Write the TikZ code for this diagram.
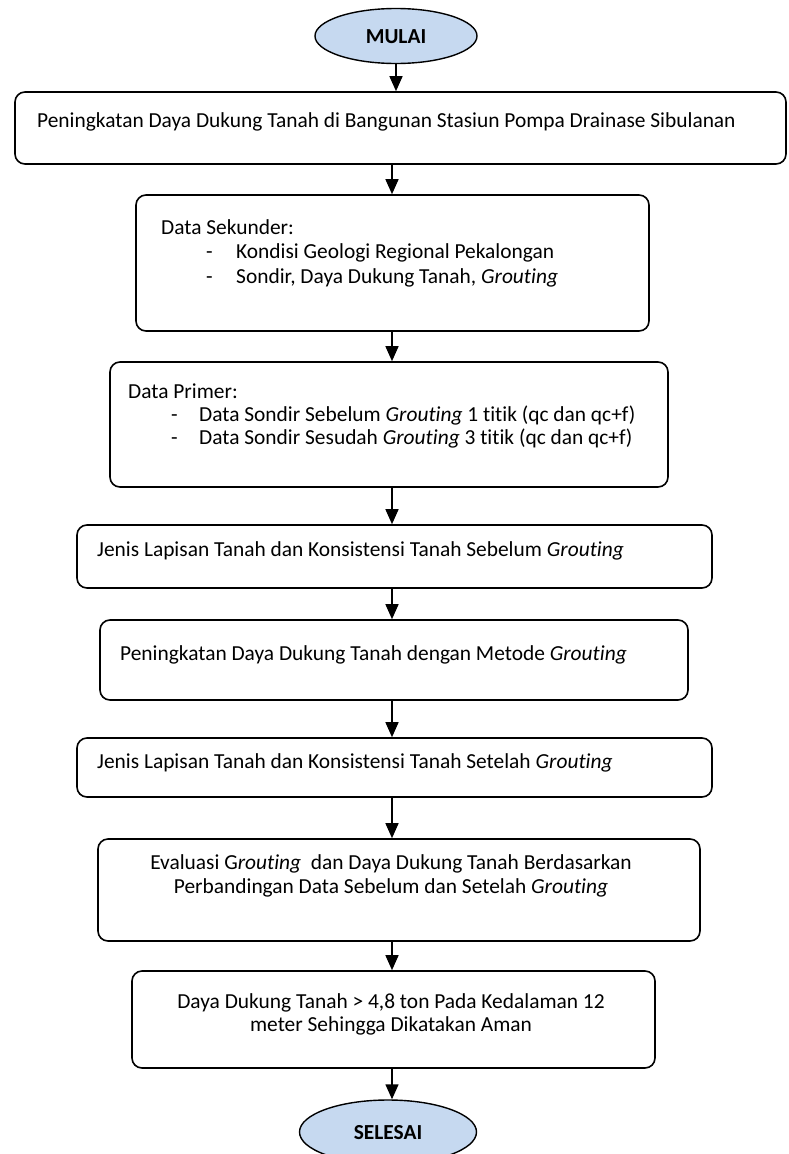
\documentclass[tikz,border=0pt]{standalone}
\usepackage{fontspec}
\setmainfont{Carlito}[Ligatures=NoCommon]
\usetikzlibrary{arrows.meta,shapes.geometric}
\definecolor{termfill}{RGB}{198,217,240}
\tikzset{
  box/.style={draw=black, line width=1.6pt, rounded corners=10pt, inner sep=0pt},
  term/.style={draw=black, line width=1.4pt, ellipse, fill=termfill, inner sep=0pt},
  arr/.style={line width=1.4pt, -{Triangle[width=13pt,length=15pt]}},
  txt/.style={inner sep=0pt, anchor=base west, font=\fontsize{21.4}{24}\selectfont},
  ctxt/.style={inner sep=0pt, anchor=base, font=\fontsize{21.4}{24}\selectfont},
  ttxt/.style={inner sep=0pt, font=\fontsize{21.4}{24}\selectfont\bfseries},
}
\begin{document}
\begin{tikzpicture}[x=1pt,y=-1pt]
\useasboundingbox (0,0) rectangle (788,1154);
\coordinate (ax) at (392,0);
% terminals
\node[term, minimum width=162pt, minimum height=55pt] (start) at (396,36) {};
\node[ttxt] (starttxt) at (396,37) {MULAI};
\node[term, minimum width=177pt, minimum height=64pt] (stop) at (388,1132) {};
\node[ttxt] (stoptxt) at (388,1133) {SELESAI};
% boxes
\node[box, minimum width=771pt, minimum height=72pt] (b1) at (400.5,128) {};
\node[box, minimum width=513pt, minimum height=136pt] (b2) at (392.5,263) {};
\node[box, minimum width=558pt, minimum height=125pt] (b3) at (389,424.5) {};
\node[box, minimum width=635pt, minimum height=63pt] (b4) at (394.5,556.5) {};
\node[box, minimum width=588pt, minimum height=80pt] (b5) at (394,660) {};
\node[box, minimum width=635pt, minimum height=59pt] (b6) at (394.5,767.5) {};
\node[box, minimum width=602pt, minimum height=102pt] (b7) at (399,890) {};
\node[box, minimum width=523pt, minimum height=97pt] (b8) at (393.5,1019.5) {};
% texts
\node[txt] (t1) at (37,127) {Peningkatan Daya Dukung Tanah di Bangunan Stasiun Pompa Drainase Sibulanan};
\node[txt] (t2a) at (161,234) {Data Sekunder:};
\node[txt] (t2b) at (206,258) {-};
\node[txt] (t2c) at (236,258) {Kondisi Geologi Regional Pekalongan};
\node[txt] (t2d) at (206,283) {-};
\node[txt] (t2e) at (236,283) {Sondir, Daya Dukung Tanah, \textit{Grouting}};
\node[txt] (t3a) at (128,398) {Data Primer:};
\node[txt] (t3b) at (171,421) {-};
\node[txt] (t3c) at (199,421) {Data Sondir Sebelum \textit{Grouting} 1 titik (qc dan qc+f)};
\node[txt] (t3d) at (171,444) {-};
\node[txt] (t3e) at (199,444) {Data Sondir Sesudah \textit{Grouting} 3 titik (qc dan qc+f)};
\node[txt] (t4) at (97,556) {Jenis Lapisan Tanah dan Konsistensi Tanah Sebelum \textit{Grouting}};
\node[txt] (t5) at (120,660) {Peningkatan Daya Dukung Tanah dengan Metode \textit{Grouting}};
\node[txt] (t6) at (97,768) {Jenis Lapisan Tanah dan Konsistensi Tanah Setelah \textit{Grouting}};
\node[ctxt] (t7a) at (391,869) {Evaluasi G\textit{routing}\ \ dan Daya Dukung Tanah Berdasarkan};
\node[ctxt] (t7b) at (391,893) {Perbandingan Data Sebelum dan Setelah \textit{Grouting}};
\node[ctxt] (t8a) at (391,1008) {Daya Dukung Tanah > 4,8 ton Pada Kedalaman 12};
\node[ctxt] (t8b) at (391,1031) {meter Sehingga Dikatakan Aman};
% arrows
\draw[arr] (start.south) -- (b1.north -| start.south);
\draw[arr] (b1.south -| ax) -- (b2.north -| ax);
\draw[arr] (b2.south -| ax) -- (b3.north -| ax);
\draw[arr] (b3.south -| ax) -- (b4.north -| ax);
\draw[arr] (b4.south -| ax) -- (b5.north -| ax);
\draw[arr] (b5.south -| ax) -- (b6.north -| ax);
\draw[arr] (b6.south -| ax) -- (b7.north -| ax);
\draw[arr] (b7.south -| ax) -- (b8.north -| ax);
\draw[arr] (b8.south -| ax) -- (stop.north -| ax);
\end{tikzpicture}
\end{document}
